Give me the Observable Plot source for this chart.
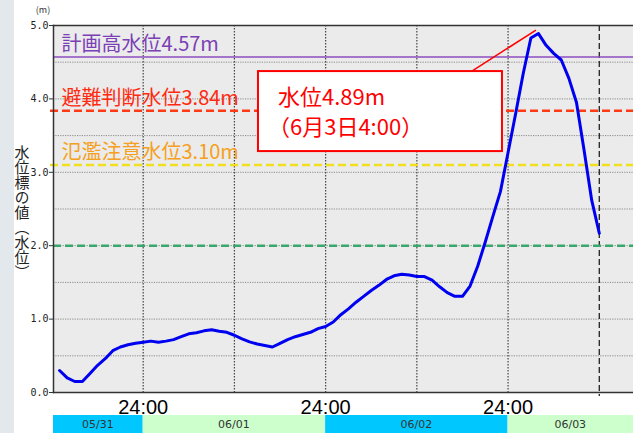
<!DOCTYPE html>
<html><head><meta charset="utf-8">
<script src="https://cdn.jsdelivr.net/npm/d3@7"></script>
<script src="https://cdn.jsdelivr.net/npm/@observablehq/plot@0.6"></script>
<style>
body{margin:0;background:#fff;}
#chart svg{display:block;}
</style></head>
<body><div id="chart"></div>
<script>
// hours since 05/31 00:00
const times  = [13,14,15,16,17,18,19,20,21,22,23,24,25,26,27,28,29,30,31,32,33,34,35,36,37,38,39,40,41,42,43,44,45,46,47,48,49,50,51,52,53,54,55,56,57,58,59,60,61,62,63,64,65,66,67,68,69,70,71,72,73,74,75,76,77,78,79,80,81,82,83,84];
const levels = [0.30,0.20,0.15,0.15,0.26,0.37,0.46,0.57,0.62,0.65,0.67,0.685,0.70,0.685,0.70,0.72,0.76,0.80,0.815,0.84,0.855,0.835,0.82,0.78,0.73,0.69,0.66,0.64,0.62,0.67,0.72,0.76,0.79,0.82,0.87,0.90,0.96,1.06,1.14,1.23,1.31,1.39,1.46,1.54,1.59,1.61,1.60,1.58,1.58,1.53,1.44,1.36,1.31,1.31,1.45,1.72,2.05,2.40,2.74,3.27,3.80,4.35,4.83,4.89,4.73,4.62,4.53,4.28,3.95,3.30,2.62,2.17];

const refNames  = ["計画高水位","避難判断水位","氾濫注意水位"];
const refValues = [4.57,3.84,3.10];
const refColors = ["#7b3fb5","#ff2a10","#f5a020"];
const refLineColors = ["#8e4cc0","#ff3a14","#f0e020"];
const watchLevel = 2.0;

const dayLabels = ["05/31","06/01","06/02","06/03"];
const dayStarts = [0,24,48,72];
const dayColors = ["#00c8ff","#ccffcc","#00c8ff","#ccffcc"];
const midnightTicks = [24,48,72];
const midnightLabel = "24:00";
const gridHours = [24,36,48,60,72];
const gridLevels = [0.5,1,1.5,2,2.5,3,3.5,4,4.5];
const levelTicks = [0,1,2,3,4,5];
const nowHour = 84;
const peakHour = 76, peakLevel = 4.89;
const peakText1 = "水位4.89m";
const peakText2 = "（6月3日4:00）";
const xDomain = [12.2, 88.5];

const series = times.map((t,i)=>({t, v: levels[i]}));
const refs = refNames.map((n,i)=>({label: n + refValues[i].toFixed(2) + "m", value: refValues[i], color: refColors[i], line: refLineColors[i]}));

const font = "'Noto Sans CJK JP', 'Noto Sans', sans-serif";

const chart = Plot.plot({
  width: 633, height: 433,
  marginLeft: 53, marginRight: 0, marginTop: 25, marginBottom: 41,
  x: {domain: xDomain, axis: null},
  y: {domain: [0,5], axis: null},
  color: {type: "identity"},
  style: {fontFamily: font, background: "transparent"},
  marks: [
    Plot.frame({fill: "#ebebeb", stroke: "none"}),
    Plot.ruleY(gridLevels, {stroke: "#8a8a8a", strokeDasharray: "1.2,1.2", strokeWidth: 1}),
    Plot.ruleX(gridHours, {stroke: "#444", strokeDasharray: "1.5,1.5", strokeWidth: 1.2}),
    Plot.ruleX([nowHour], {stroke: "#222", strokeDasharray: "6,3", strokeWidth: 1.3, insetBottom: -4}),
    Plot.ruleY([refs[0]], {y: "value", stroke: "line", strokeWidth: 1.6}),
    Plot.ruleY(refs.slice(1), {y: "value", stroke: "line", strokeWidth: 2.5, strokeDasharray: "8,4", insetLeft: -3}),
    Plot.ruleY([watchLevel], {stroke: "#3aa86c", strokeWidth: 2.5, strokeDasharray: "8,4"}),
    Plot.line(series, {x: "t", y: "v", stroke: "#0000f0", strokeWidth: 3, strokeLinejoin: "round"}),
    Plot.frame({anchor: "top", stroke: "#333", strokeWidth: 1.5}),
    Plot.frame({anchor: "left", stroke: "#333", strokeWidth: 1.5}),
    Plot.frame({anchor: "bottom", stroke: "#333", strokeWidth: 1.5}),
    Plot.text(refs, {y: "value", text: "label", fill: "color", frameAnchor: "left", dx: 8, dy: -12, textAnchor: "start", lineAnchor: "middle", fontSize: 20}),
    Plot.axisY({ticks: levelTicks, tickFormat: d => d.toFixed(1), tickSize: 4, tickPadding: 1, fontSize: 10, fontFamily: "'DejaVu Sans Mono', monospace", color: "#222", stroke: "#333"}),
    Plot.text(midnightTicks, {x: d => d, text: () => midnightLabel, frameAnchor: "bottom", dy: 15, lineAnchor: "middle", fontSize: 20, fill: "#000", fontFamily: "'Liberation Sans', Arial, sans-serif"})
  ]
});

document.getElementById("chart").appendChild(chart);
const svg = d3.select(chart);
const xs = chart.scale("x"), ys = chart.scale("y");
const xl = xs.apply(xDomain[0]), xr = xs.apply(xDomain[1]);

// left textured strip
svg.insert("rect", ":first-child").attr("x", 0).attr("y", 0).attr("width", 14).attr("height", 433).attr("fill", "#e2e8ec");

// date bands
const bandG = svg.append("g");
dayLabels.forEach((lab, i) => {
  const a = Math.max(xl, xs.apply(dayStarts[i]));
  const b = Math.min(xr, xs.apply(dayStarts[i] + 24));
  bandG.append("rect").attr("x", a).attr("y", 415).attr("width", b - a).attr("height", 18).attr("fill", dayColors[i]);
  bandG.append("text").attr("x", (a + b) / 2).attr("y", 425).attr("text-anchor", "middle").attr("dominant-baseline", "middle")
    .attr("font-size", 11).attr("fill", "#333").attr("font-family", "'DejaVu Sans', sans-serif").text(lab);
});

// unit label
svg.append("text").attr("x", 43).attr("y", 13).attr("text-anchor", "middle").attr("font-size", 9).attr("fill", "#333")
  .attr("font-family", font).text("(m)");

// vertical y title
svg.append("text").attr("x", 22).attr("y", 145).attr("text-anchor", "start").attr("font-size", 15).attr("fill", "#222")
  .attr("font-family", font).style("writing-mode", "vertical-rl").text("水位標の値（水位）");

// peak callout
const px = xs.apply(peakHour), py = ys.apply(peakLevel);
const g = svg.append("g").attr("text-anchor", "start");
g.append("line").attr("x1", px - 66).attr("y1", py + 38).attr("x2", px - 2).attr("y2", py - 3).attr("stroke", "#ff0000").attr("stroke-width", 1.5);
g.append("rect").attr("x", px - 280).attr("y", py + 38).attr("width", 244).attr("height", 80).attr("fill", "#fff").attr("stroke", "#ff0000").attr("stroke-width", 2);
g.append("text").attr("x", px - 260).attr("y", py + 66).attr("text-anchor", "start").attr("dominant-baseline", "middle").attr("font-size", 22).attr("fill", "#ff0000").attr("font-family", font).text(peakText1);
g.append("text").attr("x", px - 270).attr("y", py + 96).attr("text-anchor", "start").attr("dominant-baseline", "middle").attr("font-size", 22).attr("fill", "#ff0000").attr("font-family", font).text(peakText2);
</script></body></html>
